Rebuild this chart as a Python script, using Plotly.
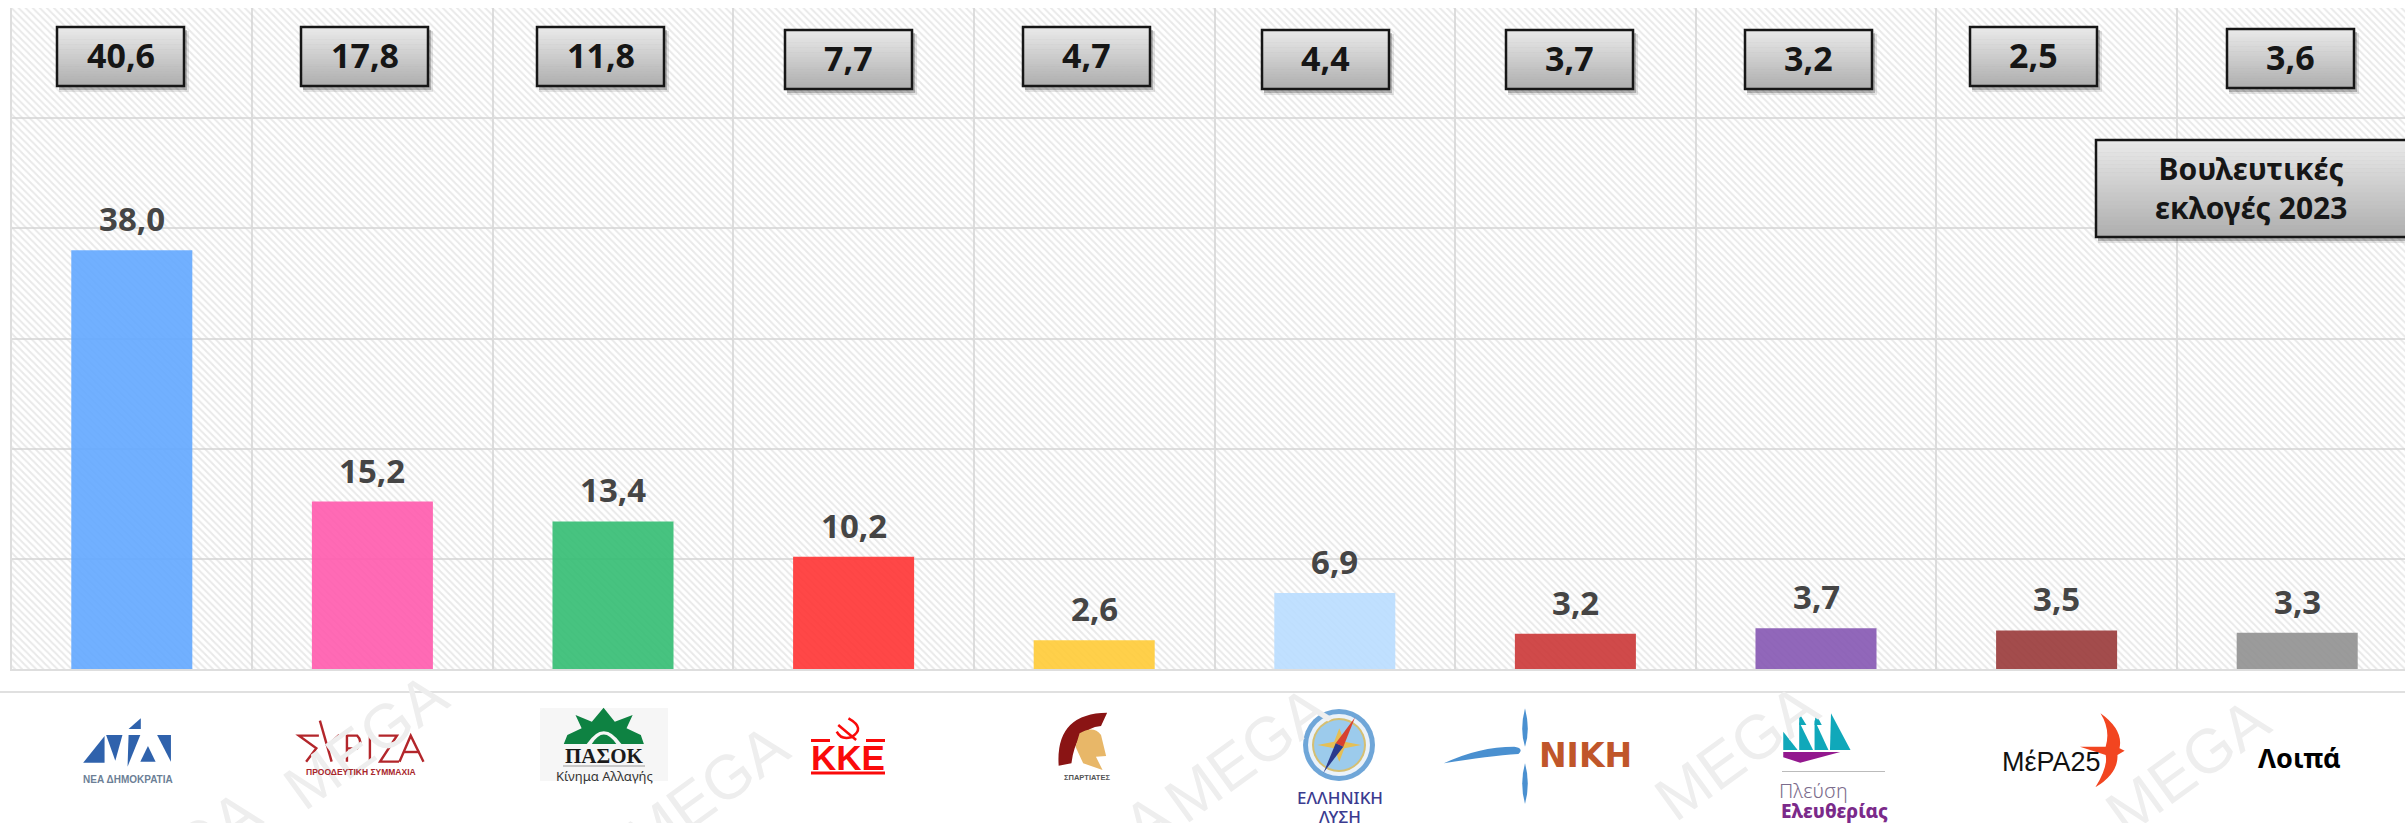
import plotly.graph_objects as go

# ---------- data ----------
parties = ["ΝΔ", "ΣΥΡΙΖΑ", "ΠΑΣΟΚ", "ΚΚΕ", "Σπαρτιάτες", "Ελληνική Λύση", "ΝΙΚΗ", "Πλεύση Ελευθερίας", "ΜέΡΑ25", "Λοιπά"]
poll_values = [38.0, 15.2, 13.4, 10.2, 2.6, 6.9, 3.2, 3.7, 3.5, 3.3]
election_values = [40.6, 17.8, 11.8, 7.7, 4.7, 4.4, 3.7, 3.2, 2.5, 3.6]
bar_colors = ["#62A7FF", "#FF5AAD", "#33BC72", "#FF3333", "#FFCB36", "#B9DDFF", "#CB3636", "#8557B3", "#993838", "#909090"]
axis_max = 60

W, H = 2405, 823
FONT = "Noto Sans"


def fx(x):
    return x / W


def fy(y):
    return 1 - y / H


shapes = []
annotations = []


def rect(x0, y0, x1, y1, fill, line=None, lw=0):
    shapes.append(dict(type="rect", xref="paper", yref="paper", x0=fx(x0), x1=fx(x1), y0=fy(y0), y1=fy(y1),
                       fillcolor=fill, line=dict(color=line or "rgba(0,0,0,0)", width=lw)))


def circle(cx, cy, r, fill, line=None, lw=0):
    shapes.append(dict(type="circle", xref="paper", yref="paper", x0=fx(cx - r), x1=fx(cx + r), y0=fy(cy + r), y1=fy(cy - r),
                       fillcolor=fill, line=dict(color=line or "rgba(0,0,0,0)", width=lw)))


def path(d, ox=0.0, sx=1.0, oy=0.0, sy=1.0, fill=None, line=None, lw=0):
    out, is_x = [], True
    for tok in d.split():
        if tok.isalpha():
            out.append(tok)
            is_x = True
        else:
            v = float(tok)
            if is_x:
                out.append(f"{fx(ox + v / sx):.6f}")
            else:
                out.append(f"{fy(oy + v / sy):.6f}")
            is_x = not is_x
    shapes.append(dict(type="path", xref="paper", yref="paper", path=" ".join(out),
                       fillcolor=fill or "rgba(0,0,0,0)", line=dict(color=line or "rgba(0,0,0,0)", width=lw)))


def text(x, y, s, size, color="#111111", family=FONT, weight=400, angle=0):
    annotations.append(dict(xref="paper", yref="paper", x=fx(x), y=fy(y), text=s, showarrow=False,
                            xanchor="center", yanchor="middle", textangle=angle,
                            font=dict(family=family, size=size, color=color, weight=weight)))


def gradient_box(x0, y0, x1, y1):
    rect(x0 + 2, y0 + 4, x1 + 5, y1 + 6, "rgba(0,0,0,0.10)")
    rect(x0 + 2, y0 + 3, x1 + 3, y1 + 4, "rgba(0,0,0,0.22)")
    n = 24
    for i in range(n):
        t = i / (n - 1)
        c = int(233 - t * (233 - 176))
        rect(x0, y0 + (y1 - y0) * i / n, x1, y0 + (y1 - y0) * (i + 1) / n + 0.5, f"rgb({c},{c},{c})")
    rect(x0, y0, x1, y1, "rgba(0,0,0,0)", "#161616", 2.5)


# ---------- watermark ----------
for cx, cy in [(365, 741), (706, 792), (1246, 754), (1736, 752), (2187, 766), (178, 858), (1090, 862)]:
    text(cx, cy, "MEGA", 62, "#EEEEEE", "Liberation Sans", 400, -36)

# separator above logos
rect(0, 691, W, 693, "#E0E0E0")

# ---------- boxes with the election result ----------
box_lefts = [57, 301, 537, 785, 1023, 1262, 1506, 1745, 1970, 2227]
box_tops = [27, 27, 27, 30, 27, 30, 30, 30, 27, 29]
for left, top, val in zip(box_lefts, box_tops, election_values):
    gradient_box(left, top, left + 127, top + 59)
    text(left + 63.5, top + 28, f"{val:.1f}".replace(".", ","), 34, "#161616", FONT, 700)

gradient_box(2096, 140, 2407, 237)
text(2251, 188, "Βουλευτικές<br>εκλογές 2023", 30, "#161616", FONT, 700)

# ---------- value labels ----------
for party, val in zip(parties, poll_values):
    annotations.append(dict(x=party, y=val, xref="x", yref="y", text=f"{val:.1f}".replace(".", ","),
                            showarrow=False, xanchor="center", yanchor="bottom", yshift=7,
                            font=dict(family=FONT, size=33, color="#454545", weight=700)))

# ---------- logo drawings ----------
Z2 = dict(ox=0, sx=1.96, oy=600, sy=3)
Z3 = dict(ox=800, sx=1.96, oy=600, sy=3)
Z4 = dict(ox=1600, sx=1.948, oy=600, sy=3)

# ΝΔ
nd = "#2F62AC"
for d in ["M 163 488 L 205 488 L 205 408 Z", "M 208 405 L 240 405 L 226 482 Z", "M 250 500 L 252 405 L 275 405 Z",
          "M 252 387 L 276 355 L 276 387 Z", "M 275 485 L 305 485 L 290 438 Z", "M 308 405 L 335 405 L 335 485 Z"]:
    path(d, fill=nd, **Z2)
text(128, 779, "ΝΕΑ ΔΗΜΟΚΡΑΤΙΑ", 10, "#6C7F96", "Liberation Sans", 700)

# ΣΥΡΙΖΑ
sy_col = "#B3262B"
for d in ["M 625 407 L 586 407 L 620 445 L 600 485", "M 627 362 L 650 485", "M 640 440 L 665 405",
          "M 680 485 L 680 407 L 700 407 Q 712 425 700 445 L 680 445", "M 725 405 L 725 485",
          "M 742 407 L 778 407 L 745 485 L 782 485", "M 783 485 L 805 407 L 830 485", "M 792 456 L 822 456"]:
    path(d, line=sy_col, lw=2.4, **Z2)
text(361, 772, "ΠΡΟΟΔΕΥΤΙΚΗ ΣΥΜΜΑΧΙΑ", 8.5, "#A8262B", "Liberation Sans", 700)

# ΠΑΣΟΚ
rect(540, 708, 668, 781, "#F6F6F6")
path("M 1105 432 L 1112 405 L 1140 385 L 1128 345 L 1160 365 L 1183 323 L 1205 365 L 1240 345 L 1228 385 L 1256 405 L 1262 432 Z",
     fill="#0E8242", **Z2)
path("M 1150 432 Q 1183 355 1218 432 Z", fill="#F6F6F6", **Z2)
path("M 1160 432 Q 1183 375 1208 432 Z", fill="#0E8242", **Z2)
text(604, 756, "ΠΑΣΟΚ", 21, "#1A1A1A", "Liberation Serif", 700)
rect(563, 765.5, 645, 766.5, "#999999")
text(604, 776, "Κίνημα Αλλαγής", 13, "#333333", "Noto Sans", 400)

# ΚΚΕ
kke = "#FA0A0A"
text(848, 757, "ΚΚΕ", 35, kke, "Liberation Sans", 700)
rect(811, 739, 830, 742, kke)
rect(866, 739, 885, 742, kke)
rect(811, 771.5, 885, 774.5, kke)
path("M 95 355 Q 130 385 100 412 Q 80 420 72 395", line=kke, lw=2.5, **Z3)
path("M 75 375 L 110 420", line=kke, lw=2.5, **Z3)

# Σπαρτιάτες
path("M 507 497 Q 500 340 602 338 L 590 378 Q 540 385 532 490 Z", fill="#8A1414", **Z3)
path("M 548 400 Q 575 375 590 405 L 600 468 L 580 470 L 593 510 L 555 490 L 540 440 Z", fill="#E8B768", **Z3)
text(1087, 777, "ΣΠΑΡΤΙΑΤΕΣ", 7.5, "#555555", "Liberation Sans", 700)

# Ελληνική Λύση
circle(1339, 745, 36, "#6FA6D8")
circle(1339, 745, 31, "#EAF2FA")
circle(1339, 745, 27, "#D5BF72")
circle(1339, 745, 25, "#9CCBEC")
path("M 1057 385 L 1067 425 L 1100 435 L 1067 445 L 1057 485 L 1047 445 L 1014 435 L 1047 425 Z", fill="#E5BF55", **Z3)
path("M 1088 352 L 1065 440 L 1050 430 Z", fill="#D8412F", **Z3)
path("M 1026 518 L 1050 430 L 1065 440 Z", fill="#2A3A8C", **Z3)
text(1340, 797, "ΕΛΛΗΝΙΚΗ", 17, "#3B3B8F", "Noto Sans", 500)
text(1340, 816, "ΛΥΣΗ", 17, "#3B3B8F", "Noto Sans", 500)

# ΝΙΚΗ
niki = "#4A90D0"
path("M 1421 325 Q 1432 390 1421 440 Q 1410 390 1421 325 Z", fill=niki, **Z3)
path("M 1421 490 Q 1432 550 1421 612 Q 1410 550 1421 490 Z", fill=niki, **Z3)
path("M 1262 490 Q 1330 440 1400 440 Q 1420 445 1408 462 Q 1350 468 1262 490 Z", fill=niki, **Z3)
text(1585, 755, "ΝΙΚΗ", 33, "#C0562A", "DejaVu Sans", 700)

# Πλεύση Ελευθερίας
sail = "#10A8BA"
for d in ["M 357 450 L 385 450 L 357 395 Z", "M 388 450 L 415 450 L 388 365 Z", "M 418 450 L 445 450 L 418 360 Z",
          "M 448 450 L 488 450 L 450 340 Z", "M 388 375 L 402 375 L 388 340 Z", "M 418 375 L 432 375 L 420 340 Z"]:
    path(d, fill=sail, **Z4)
path("M 357 456 L 468 456 L 390 488 L 357 472 Z", fill="#93188E", **Z4)
rect(1782, 771, 1885, 772, "#BBBBBB")
text(1813, 790, "Πλεύση", 20, "#7B6C8C", "Noto Sans", 300)
text(1834, 811, "Ελευθερίας", 19, "#7B2A8A", "Noto Sans", 800)

# ΜέΡΑ25
text(2051, 762, "ΜέΡΑ25", 27, "#111111", "Liberation Sans", 400)
path("M 975 340 Q 1020 390 1012 445 L 1022 452 L 1008 465 Q 1010 520 965 562 Q 990 500 985 465 L 935 440 L 985 440 Q 995 390 975 340 Z",
     fill="#F24520", **Z4)

# Λοιπά
text(2299, 757, "Λοιπά", 27, "#000000", FONT, 700)

# ---------- figure ----------
fig = go.Figure()
fig.add_bar(x=parties, y=[axis_max] * len(parties), width=1, hoverinfo="skip", showlegend=False,
            marker=dict(color="rgba(255,255,255,0)", line_width=0,
                        pattern=dict(shape="\\", size=5, solidity=0.4, fgcolor="#D4D4D4", bgcolor="rgba(255,255,255,0)")))
fig.add_bar(x=parties, y=poll_values, width=0.503, showlegend=False, name="",
            marker=dict(color=bar_colors, line_width=0, opacity=0.9))

axis_right = (W - 11.5) / 240.6 - 0.5
fig.update_layout(
    width=W, height=H, autosize=False, barmode="overlay", separators=",.",
    margin=dict(l=0, r=0, t=0, b=0, pad=0), paper_bgcolor="white", plot_bgcolor="white",
    showlegend=False, shapes=shapes, annotations=annotations,
    xaxis=dict(domain=[11.5 / W, 1], type="category", categoryorder="array", categoryarray=parties,
               range=[-0.5, axis_right], tickson="boundaries", showgrid=True, gridcolor="#DEDEDE", gridwidth=2,
               showticklabels=False, ticks="", showline=True, linecolor="#DEDEDE", linewidth=2, zeroline=False),
    yaxis=dict(domain=[1 - 669 / H, 1 - 8 / H], range=[0, axis_max], dtick=10, showgrid=True, gridcolor="#DEDEDE",
               gridwidth=2, showticklabels=False, ticks="", showline=True, linecolor="#DEDEDE", linewidth=2,
               zeroline=False),
)

fig.write_html("out.html", config={"displayModeBar": False},
               post_script="document.body.style.margin='0';document.body.style.overflow='hidden';")
